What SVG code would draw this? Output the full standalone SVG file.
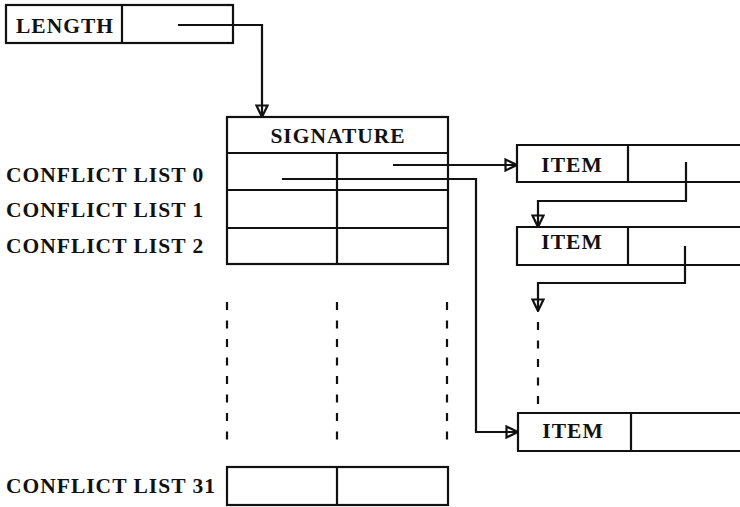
<svg xmlns="http://www.w3.org/2000/svg" width="740" height="507" viewBox="0 0 740 507">
<style>
.box{fill:#fff;stroke:#111;stroke-width:2.2}
.ln{fill:none;stroke:#111;stroke-width:2.2}
.dash{fill:none;stroke:#111;stroke-width:2.2;stroke-dasharray:8 10.5}
.t{font-family:"Liberation Serif","Times New Roman",serif;font-weight:bold;font-size:21.5px;letter-spacing:1px;fill:#111}
.c{text-anchor:middle}
</style>
<defs>
<marker id="ah" viewBox="0 0 14 14" refX="13" refY="7" markerWidth="14" markerHeight="14" markerUnits="userSpaceOnUse" orient="auto">
<path d="M1.5,1.5 L13,7 L1.5,12.5 Z" fill="none" stroke="#111" stroke-width="2.2"/>
</marker>
</defs>
<rect width="740" height="507" fill="#fff"/>

<g id="length">
<rect class="box" x="6" y="5" width="227" height="38"/>
<line class="ln" x1="122" y1="5" x2="122" y2="43"/>
<text class="t" x="16" y="33">LENGTH</text>
</g>

<g id="table">
<rect class="box" x="227" y="117" width="221" height="147"/>
<line class="ln" x1="227" y1="153" x2="448" y2="153"/>
<line class="ln" x1="227" y1="190" x2="448" y2="190"/>
<line class="ln" x1="227" y1="228" x2="448" y2="228"/>
<line class="ln" x1="337" y1="153" x2="337" y2="264"/>
<text class="t c" x="338" y="143">SIGNATURE</text>
</g>

<g id="labels">
<text class="t" x="6" y="182">CONFLICT LIST 0</text>
<text class="t" x="6" y="217">CONFLICT LIST 1</text>
<text class="t" x="6" y="253">CONFLICT LIST 2</text>
<text class="t" x="6" y="493">CONFLICT LIST 31</text>
</g>

<g id="row31">
<rect class="box" x="227" y="467" width="221" height="38"/>
<line class="ln" x1="337" y1="467" x2="337" y2="505"/>
</g>

<g id="gap">
<line class="dash" x1="227" y1="302" x2="227" y2="442"/>
<line class="dash" x1="337" y1="302" x2="337" y2="442"/>
<line class="dash" x1="447" y1="302" x2="447" y2="442"/>
</g>

<g id="item1">
<path class="box" d="M741,145 H517 V182 H741"/>
<line class="ln" x1="628" y1="145" x2="628" y2="182"/>
<text class="t c" x="572" y="172">ITEM</text>
</g>
<g id="item2">
<path class="box" d="M741,227 H517 V265 H741"/>
<line class="ln" x1="628" y1="227" x2="628" y2="265"/>
<text class="t c" x="572" y="249">ITEM</text>
</g>
<g id="item3">
<path class="box" d="M741,413 H518 V451 H741"/>
<line class="ln" x1="631" y1="413" x2="631" y2="451"/>
<text class="t c" x="573" y="438">ITEM</text>
</g>

<g id="connectors">
<path class="ln" d="M178,25 H262 V117" marker-end="url(#ah)"/>
<path class="ln" d="M393,165 H517" marker-end="url(#ah)"/>
<path class="ln" d="M282,179 H476 V432 H518" marker-end="url(#ah)"/>
<path class="ln" d="M686,162 V201 H538 V227" marker-end="url(#ah)"/>
<path class="ln" d="M685,246 V283 H538 V311" marker-end="url(#ah)"/>
<line class="dash" x1="538" y1="322" x2="538" y2="405"/>
</g>
</svg>
